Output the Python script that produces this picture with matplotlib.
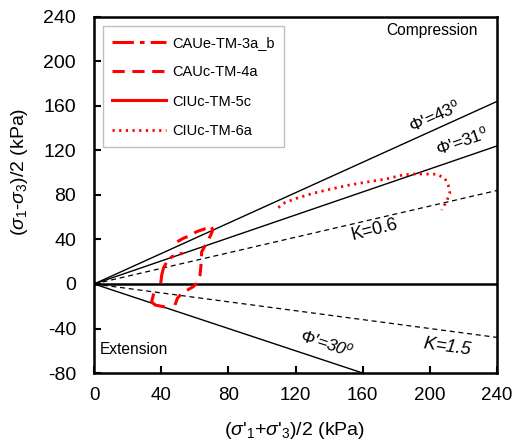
import matplotlib
matplotlib.use("Agg")
import matplotlib.pyplot as plt

plt.rcParams['font.family'] = ['Liberation Sans', 'DejaVu Sans']
plt.rcParams['mathtext.fontset'] = 'custom'
plt.rcParams['mathtext.rm'] = 'Liberation Sans'
plt.rcParams['mathtext.it'] = 'Liberation Sans:italic'
plt.rcParams['axes.unicode_minus'] = False

# reference lines: end points (p', q)
PHI43_END = [240, 164]
PHI31_END = [240, 124]
K06_END = [240, 84]
K15_END = [240, -48]
PHI30E_END = [160, -80]

# CAUe-TM-3a_b
p_3a = [39.7, 40.3, 41.3, 43.3, 46.3, 50.2, 52.8]
q_3a = [0.6, 8.1, 14.1, 20.0, 24.5, 26.7, 27.6]

# CAUc-TM-4a
p_4a = [48.2, 49.6, 52.2, 59.1, 61.1, 63.1, 63.7, 64.1, 67.5, 69.5, 70.7, 69.5, 67.1, 61.1, 57.1, 53.2, 49.6]
q_4a = [-18.9, -12.9, -8.4, -2.4, 0.6, 8.1, 17.1, 29.0, 38.0, 44.0, 48.5, 52.4, 50.1, 47.0, 43.4, 41.1, 38.0]

# CIUc-TM-5c
p_5c = [35.3, 34.3, 36.3, 41.3]
q_5c = [-9.9, -15.9, -18.9, -20.4]

# CIUc-TM-6a
p_6a = [109.7, 113.7, 120.7, 130.5, 140.5, 152.4, 164.3, 174.2, 184.1, 192.1, 204.0, 208.9, 210.9, 211.9, 209.9, 207.0]
q_6a = [68.6, 73.1, 77.0, 81.5, 85.1, 89.0, 92.0, 94.4, 98.0, 98.9, 98.6, 95.0, 89.0, 81.5, 74.0, 66.5]


def main():
    fig = plt.figure(figsize=(5.14, 4.42), dpi=100)
    ax = fig.add_axes([0.183, 0.156, 0.784, 0.806])

    # envelope / K lines
    ax.plot([0, PHI43_END[0]], [0, PHI43_END[1]], color='black', lw=1.0)
    ax.plot([0, PHI31_END[0]], [0, PHI31_END[1]], color='black', lw=1.0)
    ax.plot([0, PHI30E_END[0]], [0, PHI30E_END[1]], color='black', lw=1.0)
    ax.plot([0, K06_END[0]], [0, K06_END[1]], color='black', lw=0.9, ls=(0, (4, 3)))
    ax.plot([0, K15_END[0]], [0, K15_END[1]], color='black', lw=0.9, ls=(0, (4, 3)))
    ax.axhline(0, color='black', lw=1.8)

    # stress paths
    ax.plot(p_3a, q_3a, color='red', lw=2.2, ls=(0, (7, 2, 1.5, 2)), label='CAUe-TM-3a_b')
    ax.plot(p_4a, q_4a, color='red', lw=2.2, ls=(0, (4, 2.5)), label='CAUc-TM-4a')
    ax.plot(p_5c, q_5c, color='red', lw=2.2, label='CIUc-TM-5c')
    ax.plot(p_6a, q_6a, color='red', lw=2.0, ls=(0, (0.8, 1.6)), label='CIUc-TM-6a')

    # annotations
    ax.text(201, 227.5, 'Compression', fontsize=11.2, ha='center', va='center')
    ax.text(24, -59, 'Extension', fontsize=11.2, ha='center', va='center')
    ax.text(203, 151, r"$\Phi$'=43$^{\rm o}$", fontsize=12.5, ha='center', va='center', rotation=24)
    ax.text(219, 128.5, r"$\Phi$'=31$^{\rm o}$", fontsize=12.5, ha='center', va='center', rotation=19)
    ax.text(167, 48.5, 'K=0.6', fontsize=13, ha='center', va='center', rotation=14)
    ax.text(210.7, -56.5, r"$K$=1.5", fontsize=13, ha='center', va='center', rotation=-8, style='italic')
    ax.text(138.5, -53, r"$\Phi$'=30$^{o}$", fontsize=12.5, ha='center', va='center', rotation=-18, style='italic')

    ax.set_xlim(0, 240)
    ax.set_ylim(-80, 240)
    ax.set_xticks(range(0, 241, 40))
    ax.set_yticks(range(-80, 241, 40))
    ax.tick_params(direction='in', length=5, width=1.5)
    ax.tick_params(axis='x', labelsize=13.5, pad=10)
    ax.tick_params(axis='y', labelsize=14, pad=13)
    for s in ax.spines.values():
        s.set_linewidth(1.8)

    ax.set_xlabel(r"($\sigma$'$_{1}$+$\sigma$'$_{3}$)/2 (kPa)", fontsize=14)
    ax.set_ylabel(r"($\sigma_{1}$-$\sigma_{3}$)/2 (kPa)", fontsize=14)
    ax.xaxis.set_label_coords(0.497, -0.132)
    ax.yaxis.set_label_coords(-0.16, 0.565)

    leg = ax.legend(loc='upper left', bbox_to_anchor=(0.022, 0.973), fontsize=10.5,
                    handlelength=3.7, handletextpad=0.4, labelspacing=1.05, borderpad=0.65,
                    borderaxespad=0, fancybox=False, framealpha=1)
    leg.get_frame().set_edgecolor('#bfbfbf')
    leg.get_frame().set_linewidth(1.0)

    fig.savefig('out.png', dpi=100)


if __name__ == "__main__":
    main()
